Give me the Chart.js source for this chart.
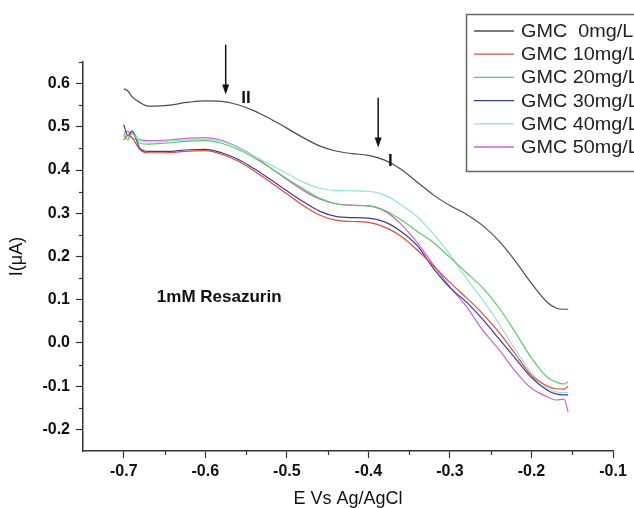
<!DOCTYPE html>
<html>
<head>
<meta charset="utf-8">
<title>GMC - Resazurin</title>
<script src="https://cdn.jsdelivr.net/npm/chart.js@4.4.1/dist/chart.umd.min.js"></script>
<style>
  html, body { margin: 0; padding: 0; background: #fff; overflow: hidden; }
  #wrap { width: 634px; height: 508px; position: relative; }
</style>
</head>
<body>
<div id="wrap"><canvas id="grafico"></canvas></div>
<script>
// potencial (V vs Ag/AgCl) - eixo x comum
const potential = [-0.70, -0.695, -0.69, -0.68, -0.67, -0.65, -0.62, -0.60, -0.58, -0.56,
  -0.54, -0.52, -0.50, -0.48, -0.46, -0.44, -0.42, -0.40, -0.38, -0.36,
  -0.34, -0.32, -0.30, -0.28, -0.26, -0.24, -0.22, -0.20, -0.18, -0.17, -0.16, -0.155];

// corrente (uA) para cada concentracao
const gmc0 = [0.588, 0.583, 0.570, 0.556, 0.548, 0.549, 0.557, 0.560, 0.559, 0.551,
  0.537, 0.518, 0.497, 0.475, 0.456, 0.444, 0.438, 0.434, 0.423, 0.402,
  0.372, 0.342, 0.318, 0.298, 0.272, 0.236, 0.190, 0.138, 0.093, 0.081, 0.078, 0.078];
const gmc10 = [0.470, 0.480, 0.475, 0.447, 0.440, 0.440, 0.444, 0.445, 0.437, 0.421,
  0.398, 0.372, 0.345, 0.318, 0.296, 0.284, 0.281, 0.279, 0.268, 0.247,
  0.215, 0.178, 0.140, 0.105, 0.068, 0.025, -0.025, -0.075, -0.100, -0.106, -0.107, -0.100];
const gmc20 = [0.480, 0.470, 0.485, 0.462, 0.460, 0.462, 0.467, 0.468, 0.462, 0.448,
  0.428, 0.405, 0.380, 0.357, 0.335, 0.322, 0.318, 0.317, 0.307, 0.285,
  0.258, 0.232, 0.198, 0.163, 0.128, 0.082, 0.025, -0.035, -0.080, -0.090, -0.095, -0.090];
const gmc30 = [0.505, 0.480, 0.490, 0.450, 0.443, 0.443, 0.447, 0.448, 0.440, 0.425,
  0.403, 0.378, 0.352, 0.327, 0.305, 0.293, 0.290, 0.289, 0.280, 0.258,
  0.225, 0.172, 0.128, 0.095, 0.055, 0.010, -0.035, -0.080, -0.110, -0.118, -0.120, -0.120];
const gmc40 = [0.490, 0.475, 0.490, 0.468, 0.465, 0.466, 0.470, 0.471, 0.466, 0.452,
  0.432, 0.412, 0.392, 0.372, 0.358, 0.353, 0.352, 0.351, 0.342, 0.320,
  0.292, 0.252, 0.205, 0.150, 0.100, 0.045, -0.015, -0.070, -0.105, -0.113, -0.115, -0.115];
const gmc50 = [0.480, 0.490, 0.475, 0.470, 0.468, 0.469, 0.474, 0.475, 0.469, 0.453,
  0.432, 0.405, 0.378, 0.353, 0.333, 0.322, 0.319, 0.317, 0.305, 0.275,
  0.232, 0.180, 0.130, 0.085, 0.030, -0.015, -0.065, -0.105, -0.125, -0.132, -0.130, -0.160];

const seriesLabels = ['GMC  0mg/L', 'GMC 10mg/L', 'GMC 20mg/L', 'GMC 30mg/L', 'GMC 40mg/L', 'GMC 50mg/L'];
const seriesValues = [gmc0, gmc10, gmc20, gmc30, gmc40, gmc50];
const seriesColors = ['#4d4d4d', '#e4483e', '#62c962', '#3b3b9e', '#92e2da', '#c466d6'];

const xTicks = [-0.7, -0.6, -0.5, -0.4, -0.3, -0.2, -0.1];
const yTicks = [-0.2, -0.1, 0.0, 0.1, 0.2, 0.3, 0.4, 0.5, 0.6];

const FONT = '"Liberation Sans", Arial, sans-serif';
const AXIS_COLOR = '#333';

const datasets = seriesValues.map((vals, i) => ({
  label: seriesLabels[i],
  data: vals.map((v, k) => ({ x: potential[k], y: v })),
  borderColor: seriesColors[i],
  backgroundColor: seriesColors[i],
  borderWidth: 1.2,
  pointRadius: 0,
  tension: 0.4,
  cubicInterpolationMode: 'monotone',
  fill: false
}));

// tracinhos menores (a cada 0.05) nos dois eixos
const minorTicksPlugin = {
  id: 'minorTicks',
  afterDraw(chart) {
    const ctx = chart.ctx;
    const xs = chart.scales.x, ys = chart.scales.y;
    ctx.save();
    ctx.strokeStyle = AXIS_COLOR;
    ctx.lineWidth = 1.2;
    for (let i = 0; i < xTicks.length; i++) {
      const v = xTicks[i] - 0.05;
      if (v <= xs.min) continue;
      const px = Math.round(xs.getPixelForValue(v)) + 0.5;
      ctx.beginPath();
      ctx.moveTo(px, xs.top);
      ctx.lineTo(px, xs.top + 4);
      ctx.stroke();
    }
    for (let i = 0; i < yTicks.length; i++) {
      const v = yTicks[i] + 0.05;
      const py = Math.round(ys.getPixelForValue(v)) + 0.5;
      ctx.beginPath();
      ctx.moveTo(ys.right, py);
      ctx.lineTo(ys.right - 4, py);
      ctx.stroke();
    }
    ctx.restore();
  }
};

function drawArrow(ctx, x, yTop, yTip) {
  ctx.beginPath();
  ctx.moveTo(x, yTop);
  ctx.lineTo(x, yTip - 8);
  ctx.stroke();
  ctx.beginPath();
  ctx.moveTo(x - 3.5, yTip - 10);
  ctx.lineTo(x + 3.5, yTip - 10);
  ctx.lineTo(x, yTip);
  ctx.closePath();
  ctx.fill();
}

// setas, textos e legenda com caixa
const annotationsPlugin = {
  id: 'anotacoes',
  afterDraw(chart) {
    const ctx = chart.ctx;
    const xs = chart.scales.x, ys = chart.scales.y;
    ctx.save();
    ctx.strokeStyle = '#111';
    ctx.fillStyle = '#111';
    ctx.lineWidth = 1.5;

    // seta II
    let ax = xs.getPixelForValue(-0.575);
    drawArrow(ctx, ax, ys.getPixelForValue(0.69), ys.getPixelForValue(0.575));
    // seta I
    ax = xs.getPixelForValue(-0.388);
    drawArrow(ctx, ax, ys.getPixelForValue(0.567), ys.getPixelForValue(0.452));

    ctx.font = 'bold 17px ' + FONT;
    ctx.textBaseline = 'middle';
    ctx.textAlign = 'left';
    ctx.fillText('II', xs.getPixelForValue(-0.556), ys.getPixelForValue(0.565));
    ctx.fillText('I', xs.getPixelForValue(-0.376), ys.getPixelForValue(0.420));

    ctx.font = 'bold 17px ' + FONT;
    ctx.textAlign = 'center';
    ctx.fillText('1mM Resazurin', xs.getPixelForValue(-0.583), ys.getPixelForValue(0.106));

    // legenda (caixa aberta na borda direita, cortada como no original)
    const lx = 466.5, ly = 14.5, lb = 171.5, lr = chart.width + 10;
    ctx.strokeStyle = '#666';
    ctx.lineWidth = 1.5;
    ctx.beginPath();
    ctx.moveTo(lr, ly);
    ctx.lineTo(lx, ly);
    ctx.lineTo(lx, lb);
    ctx.lineTo(lr, lb);
    ctx.stroke();
    ctx.font = '18px ' + FONT;
    ctx.textAlign = 'left';
    ctx.fillStyle = '#222';
    chart.data.datasets.forEach((ds, i) => {
      const ry = 31 + i * 23.2;
      ctx.strokeStyle = ds.borderColor;
      ctx.lineWidth = 1.3;
      ctx.beginPath();
      ctx.moveTo(474, ry);
      ctx.lineTo(514, ry);
      ctx.stroke();
      ctx.save();
      ctx.translate(521, ry + 1);
      ctx.scale(1.1, 1);
      ctx.fillText(ds.label, 0, 0);
      ctx.restore();
    });
    ctx.restore();
  }
};

const config = {
  type: 'line',
  data: { datasets: datasets },
  options: {
    responsive: true,
    maintainAspectRatio: false,
    animation: false,
    layout: { padding: { top: 62, right: 21, left: 0, bottom: 0 } },
    plugins: {
      legend: { display: false },
      tooltip: { enabled: false }
    },
    scales: {
      x: {
        type: 'linear',
        min: -0.75,
        max: -0.1,
        afterFit: (scale) => { scale.height = 57; },
        afterBuildTicks: (scale) => { scale.ticks = xTicks.map(v => ({ value: v })); },
        border: { display: true, color: AXIS_COLOR, width: 1.5 },
        grid: { drawOnChartArea: false, drawTicks: true, tickLength: 7, color: AXIS_COLOR, tickWidth: 1.2 },
        ticks: {
          padding: 4,
          color: '#111',
          font: { family: FONT, size: 16, weight: 'bold' },
          callback: (v) => v.toFixed(1)
        },
        title: {
          display: true,
          text: 'E Vs Ag/AgCl',
          color: '#111',
          font: { family: FONT, size: 18, lineHeight: 1 },
          padding: { top: 0, bottom: 0 }
        }
      },
      y: {
        type: 'linear',
        min: -0.25,
        max: 0.65,
        afterFit: (scale) => { scale.width = 83; },
        afterBuildTicks: (scale) => { scale.ticks = yTicks.map(v => ({ value: v })); },
        border: { display: true, color: AXIS_COLOR, width: 1.5 },
        grid: { drawOnChartArea: false, drawTicks: true, tickLength: 7, color: AXIS_COLOR, tickWidth: 1.2 },
        ticks: {
          padding: 6,
          color: '#111',
          font: { family: FONT, size: 16, weight: 'bold' },
          callback: (v) => v.toFixed(1)
        },
        title: {
          display: true,
          text: 'I(\u03BCA)',
          color: '#111',
          font: { family: FONT, size: 18, lineHeight: 1 },
          padding: { top: 8, bottom: 0 }
        }
      }
    }
  },
  plugins: [minorTicksPlugin, annotationsPlugin]
};

try {
  new Chart(document.getElementById('grafico'), config);
} catch (error) {
  console.error('Erro ao criar o grafico:', error);
}
</script>
</body>
</html>
